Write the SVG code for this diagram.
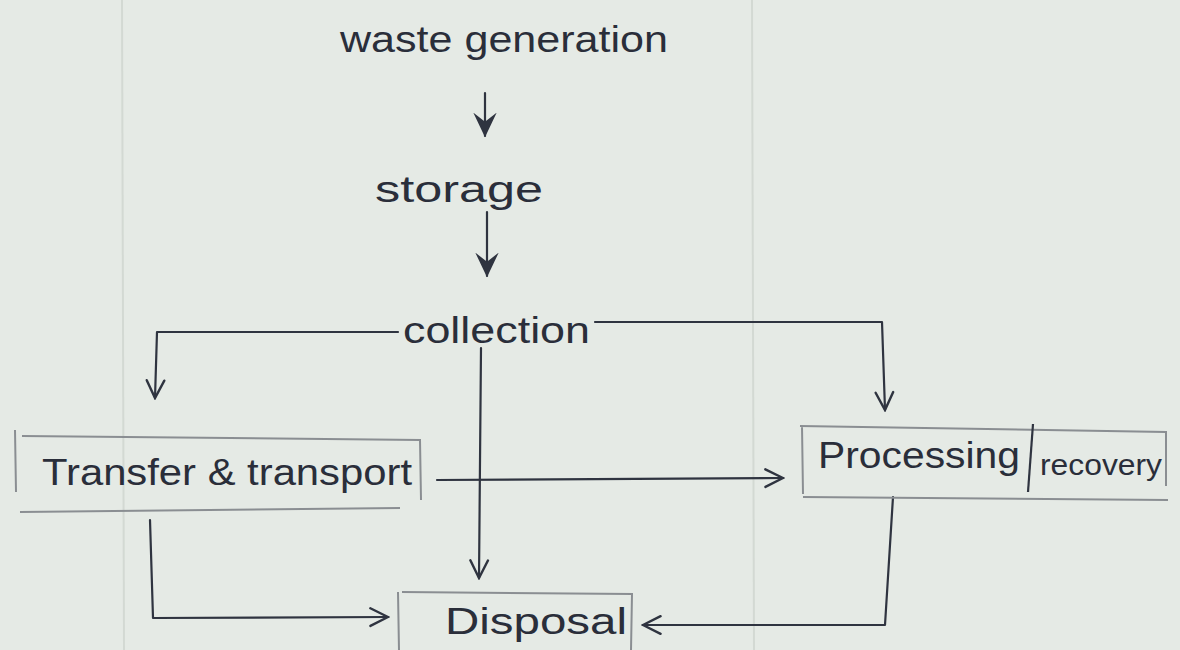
<svg xmlns="http://www.w3.org/2000/svg" width="1180" height="650" viewBox="0 0 1180 650">
<defs>
<style>
.t{font-family:"Liberation Sans","Open Sans",sans-serif;fill:#2a2e3a;font-size:36px}
.c{fill:none;stroke:#2f3440;stroke-width:2.2;stroke-linecap:round;stroke-linejoin:round}
.b{fill:none;stroke:#8a8e92;stroke-width:2}
.rule{stroke:#d3d9d3;stroke-width:2}
</style>
<marker id="open" viewBox="0 0 20 20" refX="18" refY="10" markerWidth="22" markerHeight="22" markerUnits="userSpaceOnUse" orient="auto">
<path d="M2,2 L18,10 L2,18" fill="none" stroke="#2f3440" stroke-width="2.2" stroke-linecap="round"/>
</marker>
<marker id="solid" viewBox="0 0 20 20" refX="18" refY="10" markerWidth="26" markerHeight="26" markerUnits="userSpaceOnUse" orient="auto">
<path d="M0,1 L19,10 L0,19 L7,10 Z" fill="#2f3440"/>
</marker>
</defs>
<rect x="0" y="0" width="1180" height="650" fill="#e5eae5"/>
<line class="rule" x1="122" y1="0" x2="124" y2="650"/>
<line class="rule" x1="752" y1="0" x2="754" y2="650"/>

<g id="connectors">
<line class="c" x1="485" y1="93" x2="485" y2="136" marker-end="url(#solid)"/>
<line class="c" x1="487" y1="212" x2="487" y2="276" marker-end="url(#solid)"/>
<polyline class="c" points="398,332 157,332 155,398" marker-end="url(#open)"/>
<polyline class="c" points="595,322 882,322 885,410" marker-end="url(#open)"/>
<line class="c" x1="481" y1="348" x2="479" y2="578" marker-end="url(#open)"/>
<line class="c" x1="437" y1="480" x2="783" y2="478" marker-end="url(#open)"/>
<polyline class="c" points="150,520 153,618 388,617" marker-end="url(#open)"/>
<polyline class="c" points="893,497 885,625 643,625" marker-end="url(#open)"/>
</g>

<g id="waste-generation">
<text class="t" x="340" y="52" textLength="328" lengthAdjust="spacingAndGlyphs">waste generation</text>
</g>
<g id="storage">
<text class="t" x="375" y="202" textLength="168" lengthAdjust="spacingAndGlyphs">storage</text>
</g>
<g id="collection">
<text class="t" x="403" y="343" textLength="187" lengthAdjust="spacingAndGlyphs">collection</text>
</g>
<g id="transfer-transport">
<path class="b" d="M15,430 L16,492 M22,436 L420,440 L421,500 M20,512 L400,508"/>
<text class="t" x="42" y="485" textLength="370" lengthAdjust="spacingAndGlyphs">Transfer &amp; transport</text>
</g>
<g id="processing-recovery">
<path class="b" d="M800,426 L1166,432 L1166,486 M802,426 L803,494 M803,497 L1168,500"/>
<line x1="1033" y1="424" x2="1028" y2="492" stroke="#2f3440" stroke-width="2.2"/>
<text class="t" x="818" y="468" textLength="202" lengthAdjust="spacingAndGlyphs">Processing</text>
<text class="t" x="1040" y="475" style="font-size:30px" textLength="122" lengthAdjust="spacingAndGlyphs">recovery</text>
</g>
<g id="disposal">
<path class="b" d="M398,592 L399,650 M402,592 L632,594 L631,650"/>
<text class="t" x="445" y="634" textLength="182" lengthAdjust="spacingAndGlyphs">Disposal</text>
</g>
</svg>
